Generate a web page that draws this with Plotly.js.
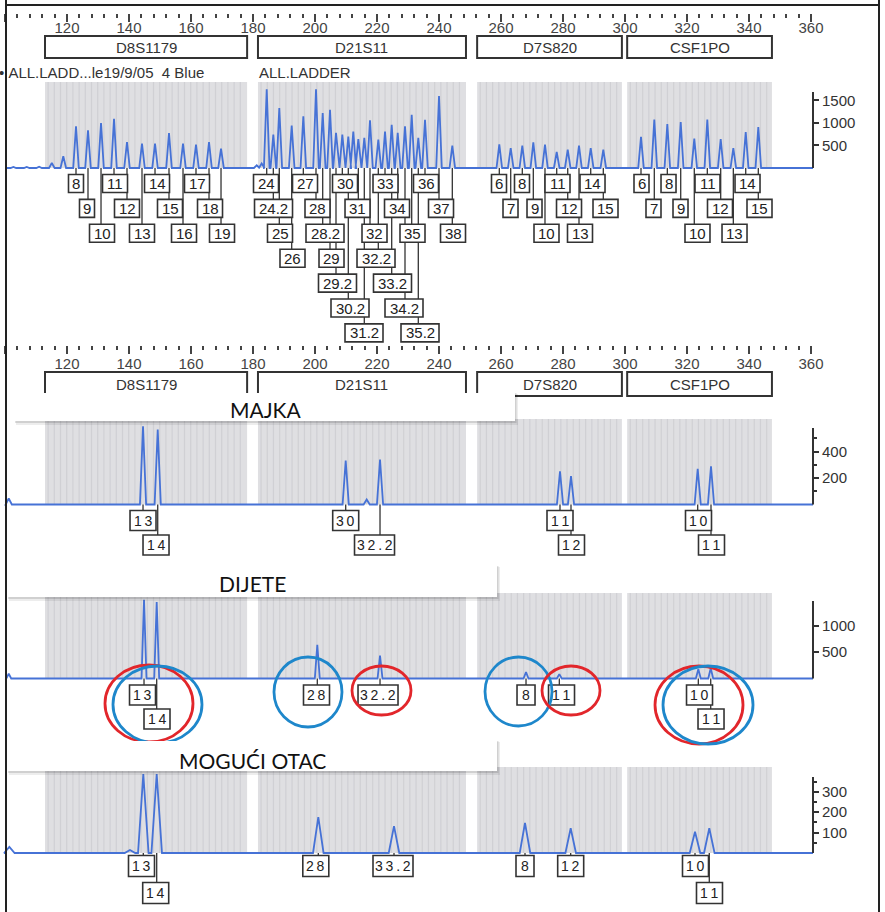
<!DOCTYPE html>
<html><head><meta charset="utf-8">
<script src="https://cdn.plot.ly/plotly-3.0.1.min.js"></script>
<style>html,body{margin:0;padding:0;background:#fff}#chart{width:885px;height:912px}</style>
</head><body><div id="chart"></div>
<script>
// ================= DATA =================
const lociNames = ['D8S1179', 'D21S11', 'D7S820', 'CSF1PO'];
const lociStart = [112.9, 181.6, 252.3, 300.7];
const lociEnd   = [178.1, 248.7, 299.0, 347.4];

const rulerTicks = [100, 120, 140, 160, 180, 200, 220, 240, 260, 280, 300, 320, 340, 360];

// Allelic ladder (ALL.LADDER)
const ladderD8Alleles = ['8','9','10','11','12','13','14','15','16','17','18','19'];
const ladderD8Sizes   = [122.90,126.77,130.97,135.16,139.35,144.19,148.39,152.90,157.42,161.61,165.81,169.68];
const ladderD8Heights = [925,836,1000,1090,577,540,540,777,540,518,577,430];

const ladderD21Alleles = ['24','24.2','25','26','27','28','28.2','29','29.2','30','30.2','31','31.2','32','32.2','33','33.2','34','34.2','35','35.2','36','37','38'];
const ladderD21Sizes   = [184.42,186.55,188.48,192.48,196.23,200.32,202.48,204.84,206.77,208.81,210.74,213.97,215.90,217.74,220.42,222.58,224.74,226.68,229.03,231.19,233.32,235.48,240.00,244.29];
const ladderD21Heights = [1750,740,1330,940,1150,1750,1220,1290,780,740,700,640,670,1060,630,810,960,780,925,1180,670,1070,1600,495];

const ladderD7Alleles = ['6','7','8','9','10','11','12','13','14','15'];
const ladderD7Sizes   = [259.45,263.13,266.87,270.42,274.19,277.97,281.52,285.16,288.94,293.00];
const ladderD7Heights = [525,444,496,570,518,355,407,496,444,407];

const ladderCSFAlleles = ['6','7','8','9','10','11','12','13','14','15'];
const ladderCSFSizes   = [305.16,309.45,313.65,317.97,322.35,326.55,330.87,334.94,338.94,343.00];
const ladderCSFHeights = [690,1073,977,1021,651,1073,644,444,800,910];

const ladderMinorSizes   = [102.7,107.0,111.0,115.1,118.8,181.2,182.8,212.35];
const ladderMinorHeights = [25,25,30,110,260,60,100,810];

// MAJKA (mother)
const majkaAlleles = ['13','14','30','32.2','11','12','10','11'];
const majkaSizes   = [144.52,149.26,209.90,220.97,279.03,282.58,323.45,327.74];
const majkaHeights = [590,566,332,340,250,214,270,289];
const majkaMinorSizes   = [101.2,216.67];
const majkaMinorHeights = [45,38];

// DIJETE (child)
const dijeteAlleles = ['13','14','28','32.2','8','11','10','11'];
const dijeteSizes   = [144.84,148.93,200.74,220.97,268.07,278.81,323.65,327.65];
const dijeteHeights = [1490,1443,637,435,123,82,176,195];
const dijeteMinorSizes   = [101.2];
const dijeteMinorHeights = [90];

// MOGUĆI OTAC (alleged father)
const otacAlleles = ['13','14','28','33.2','8','12','10','11'];
const otacSizes   = [144.61,148.93,201.06,225.48,267.74,282.48,322.58,327.19];
const otacHeights = [387,387,176,132,147,121,104,121];
const otacMinorSizes   = [101.4,140.3];
const otacMinorHeights = [30,15];

// ================= LAYOUT HELPERS (positions / styles) =================
const W = 885, H = 912, PXBP = 3.1, BP0 = 120 - 67 / 3.1;
const xp = px => px / W;
const yp = py => 1 - py / H;
const toPx = b => (b - BP0) * PXBP;
const X_RANGE = [BP0 - 0.005, BP0 + W / PXBP];
const FONT = 'Liberation Sans, Arial, sans-serif';
const DARK = '#333333';
const TRACE = '#4672d6';

const ladderD8Rows = [0,1,2,0,1,2,0,1,2,0,1,2];
const ladderD8Shift = [0,-1,1,1,0,0,2,1,1,1,1,1];
const ladderD21Rows = [0,1,2,3,0,1,2,3,4,0,5,1,6,2,3,0,4,1,5,2,6,0,1,2];
const ladderD21Shift = [-0.7,0.2,0.7,0.8,1.7,1.5,2.3,1.5,1.5,2.7,1.7,-0.8,-0.3,4.5,-2.3,0.5,0.8,-0.7,-1,0.8,1.7,1,2,0.7];
const ladderD7Rows = [0,1,0,1,2,0,1,2,0,1];
const ladderD7Shift = [-0.3,-0.2,-0.3,1.2,1.5,0.8,1.3,1,1.8,2.2];
const ladderCSFRows = [0,1,0,1,2,0,1,2,0,1];
const ladderCSFShift = [0.5,-0.8,1.2,-0.2,3.2,0.2,-0.7,1.2,1.8,1.2];

const majkaRows = [0,1,0,1,0,1,0,1];
const majkaShift = [0,-1.7,0,-5.5,0,0.5,0.8,0.5];
const dijeteRows = [0,1,0,0,0,0,0,1];
const dijeteShift = [-1.5,0.3,-0.8,-2,0,2.2,1.2,0.3];
const otacRows = [0,1,0,0,0,0,0,1];
const otacShift = [-1.8,-1,-2.5,-1,0,0,0.5,0.2];

// panel geometry in pixels
const panels = [
  {base:168,   top:88,  bar:92,  u:22.2, grayTop:82,  hw:0.9, ticks:[500,1000,1500], minor:[]},
  {base:504.5, top:424, bar:428, u:7.55, grayTop:419, hw:1.0, ticks:[200,400], minor:[100,300,500]},
  {base:678.5, top:598, bar:601, u:18.9, grayTop:593, hw:0.8, ticks:[500,1000], minor:[]},
  {base:853,   top:772, bar:777, u:4.9,  grayTop:767, hw:1.7, ticks:[100,200,300], minor:[50,150,250,350]}
];

// ================= TRACES =================
function buildTrace(sizes, heights, hw, yaxis) {
  const pk = sizes.map((s, i) => [s, heights[i]]).sort((a, b) => a[0] - b[0]);
  const xs = [BP0 + 7 / PXBP], ys = [0];
  pk.forEach(([s, h]) => { xs.push(s - hw, s, s + hw); ys.push(0, h, 0); });
  xs.push(BP0 + 813 / PXBP); ys.push(0);
  return {type:'scatter', mode:'lines', x:xs, y:ys, xaxis:'x', yaxis:yaxis,
          line:{color:TRACE, width:1.8}, hoverinfo:'skip', showlegend:false};
}
const ladderSizes = [].concat(ladderD8Sizes, ladderD21Sizes, ladderD7Sizes, ladderCSFSizes, ladderMinorSizes);
const ladderHeights = [].concat(ladderD8Heights, ladderD21Heights, ladderD7Heights, ladderCSFHeights, ladderMinorHeights);

const dummy = (xa, ya) => ({type:'scatter', mode:'markers', x:[200], y:[0], xaxis:xa, yaxis:ya,
  marker:{opacity:0, size:1}, hoverinfo:'skip', showlegend:false});
const traces = [
  buildTrace(ladderSizes, ladderHeights, panels[0].hw, 'y'),
  buildTrace(majkaSizes.concat(majkaMinorSizes), majkaHeights.concat(majkaMinorHeights), panels[1].hw, 'y2'),
  buildTrace(dijeteSizes.concat(dijeteMinorSizes), dijeteHeights.concat(dijeteMinorHeights), panels[2].hw, 'y3'),
  buildTrace(otacSizes.concat(otacMinorSizes), otacHeights.concat(otacMinorHeights), panels[3].hw, 'y4'),
  dummy('x2', 'y'), dummy('x3', 'y'), dummy('x4', 'y2'), dummy('x5', 'y2')
];

// ================= SHAPES & ANNOTATIONS =================
const shapes = [], annotations = [];

// shaded bin regions (light grey with faint vertical streaks, like the scanned print)
panels.forEach(p => lociStart.forEach((s, i) => {
  shapes.push({type:'rect', layer:'below', xref:'x', yref:'paper', x0:s, x1:lociEnd[i],
    y0:yp(p.base), y1:yp(p.grayTop), fillcolor:'#dfdfe2', line:{width:0}});
  for (let v = s + 1; v < lociEnd[i] - 0.5; v += 2) {
    shapes.push({type:'line', layer:'below', xref:'x', yref:'paper', x0:v, x1:v,
      y0:yp(p.base), y1:yp(p.grayTop), line:{color:'rgba(150,150,162,0.2)', width:1.2}});
  }
}));

// locus boxes
[[36, 58, 47], [372, 396, 384]].forEach(([t, b, ty]) => lociStart.forEach((s, i) => {
  shapes.push({type:'rect', xref:'x', yref:'paper', x0:s, x1:lociEnd[i], y0:yp(b), y1:yp(t),
               line:{color:DARK, width:2}, fillcolor:'rgba(0,0,0,0)'});
  annotations.push({xref:'x', yref:'paper', x:(s + lociEnd[i]) / 2, y:yp(ty), text:lociNames[i],
                    showarrow:false, xanchor:'center', yanchor:'middle', font:{family:FONT, size:15, color:DARK}});
}));

// allele labels with leader lines
const lineShapes = [], boxShapes = [];
function addLabels(alleles, sizes, rows, shifts, basePy, row0, rowStep, boxH, wTable, fsize, spaced) {
  alleles.forEach((a, i) => {
    const cy = row0 + rows[i] * rowStep;
    lineShapes.push({type:'line', xref:'x', yref:'paper', x0:sizes[i], x1:sizes[i],
                     y0:yp(basePy), y1:yp(cy), line:{color:DARK, width:1.3}});
    const w = wTable[Math.min(a.length, 4)];
    const cx = sizes[i] + shifts[i] / PXBP;
    boxShapes.push({type:'rect', xref:'x', yref:'paper', x0:cx - w / 2 / PXBP, x1:cx + w / 2 / PXBP,
                    y0:yp(cy + boxH / 2), y1:yp(cy - boxH / 2), line:{color:DARK, width:1.6}, fillcolor:'#ffffff'});
    annotations.push({xref:'x', yref:'paper', x:cx, y:yp(cy), text: spaced ? a.split('').join('\u2009') : a,
                      showarrow:false, xanchor:'center', yanchor:'middle', font:{family:FONT, size:fsize, color:'#222'}});
  });
}
const ladW = [0, 15, 25, 34, 38], smpW = [0, 18, 26, 36, 40];
addLabels(ladderD8Alleles, ladderD8Sizes, ladderD8Rows, ladderD8Shift, 168, 183.5, 24.9, 18, ladW, 15, false);
addLabels(ladderD21Alleles, ladderD21Sizes, ladderD21Rows, ladderD21Shift, 168, 183.5, 24.9, 18, ladW, 15, false);
addLabels(ladderD7Alleles, ladderD7Sizes, ladderD7Rows, ladderD7Shift, 168, 183.5, 24.9, 18, ladW, 15, false);
addLabels(ladderCSFAlleles, ladderCSFSizes, ladderCSFRows, ladderCSFShift, 168, 183.5, 24.9, 18, ladW, 15, false);
addLabels(majkaAlleles, majkaSizes, majkaRows, majkaShift, 504.5, 520.5, 24.5, 20, smpW, 14, true);
addLabels(dijeteAlleles, dijeteSizes, dijeteRows, dijeteShift, 678.5, 695, 24, 20, smpW, 14, true);
addLabels(otacAlleles, otacSizes, otacRows, otacShift, 853, 866, 27, 21, smpW, 14, true);
shapes.push(...lineShapes, ...boxShapes);

// hand-drawn circles on the child's profile (red = maternal, blue = paternal)
const circleAlleleIdx = [[0,1],[0,1],[2],[3],[4],[5],[6,7],[6,7]];
const circleColors = ['#e2262b','#1e87cb','#1e87cb','#e2262b','#1e87cb','#e2262b','#e2262b','#1e87cb'];
const circleDx = [-1.35, 7.15, -9.3, 1.5, -7.5, 11.7, -5.5, 3.5];
const circleCy = [703.5, 704.5, 692, 690.5, 691.5, 690.5, 705, 705];
const circleRx = [44, 44.5, 34, 29.5, 33.5, 29, 44, 45];
const circleRy = [38.5, 38.5, 35, 24.5, 34.5, 24.5, 39, 39];
circleAlleleIdx.forEach((idx, k) => {
  const mean = idx.reduce((s, j) => s + toPx(dijeteSizes[j]), 0) / idx.length;
  const cx = mean + circleDx[k];
  shapes.push({type:'circle', xref:'paper', yref:'paper',
               x0:xp(cx - circleRx[k]), x1:xp(cx + circleRx[k]),
               y0:yp(circleCy[k] + circleRy[k]), y1:yp(circleCy[k] - circleRy[k]),
               line:{color:circleColors[k], width:2.8}, fillcolor:'rgba(0,0,0,0)'});
});

// name banners (white cards with soft shadow)
const banners = [
  {x0:15, x1:515, y0:393, y1:421, text:'MAJKA', ty:409.5, tx:266},
  {x0:8,  x1:497, y0:566, y1:597, text:'DIJETE', ty:583, tx:252},
  {x0:8,  x1:497, y0:741, y1:771, text:'MOGUĆI OTAC', ty:760.5, tx:252}
];
banners.forEach(b => {
  shapes.push({type:'rect', xref:'paper', yref:'paper', x0:xp(b.x0 + 1), x1:xp(b.x1 + 3), y0:yp(b.y1 + 4), y1:yp(b.y0 + 1),
               fillcolor:'rgba(0,0,0,0.07)', line:{width:0}});
  shapes.push({type:'rect', xref:'paper', yref:'paper', x0:xp(b.x0), x1:xp(b.x1 + 1.5), y0:yp(b.y1 + 2), y1:yp(b.y0),
               fillcolor:'rgba(0,0,0,0.12)', line:{width:0}});
  shapes.push({type:'rect', xref:'paper', yref:'paper', x0:xp(b.x0), x1:xp(b.x1), y0:yp(b.y1), y1:yp(b.y0),
               fillcolor:'#ffffff', line:{width:0}});
  annotations.push({xref:'paper', yref:'paper', x:xp(b.tx), y:yp(b.ty), text:b.text, showarrow:false,
                    xanchor:'center', yanchor:'middle', font:{family:'Lato, Open Sans, sans-serif', size:21, color:'#111'}});
});

// y-axis bars
panels.forEach(p => shapes.push({type:'line', xref:'paper', yref:'paper', x0:xp(813), x1:xp(813),
  y0:yp(p.base), y1:yp(p.bar), line:{color:DARK, width:2}}));

// page frame
shapes.push({type:'line', xref:'paper', yref:'paper', x0:xp(6), x1:xp(6), y0:0, y1:1, line:{color:'#222', width:2}});
shapes.push({type:'line', xref:'paper', yref:'paper', x0:xp(879), x1:xp(879), y0:0, y1:1, line:{color:'#222', width:2}});
shapes.push({type:'line', xref:'paper', yref:'paper', x0:xp(6), x1:xp(879), y0:yp(5), y1:yp(5), line:{color:'#222', width:2}});

// run header text
annotations.push({xref:'paper', yref:'paper', x:xp(-3), y:yp(72), xanchor:'left', yanchor:'middle', showarrow:false,
  text:'•\u00a0ALL.LADD...le19/9/05\u00a0\u00a04\u00a0Blue', font:{family:FONT, size:15, color:DARK}});
annotations.push({xref:'paper', yref:'paper', x:xp(257), y:yp(72), xanchor:'left', yanchor:'middle', showarrow:false,
  text:'ALL.LADDER', font:{family:FONT, size:15, color:DARK}});

// ================= AXES =================
const minorRuler = [];
for (let v = rulerTicks[0]; v <= rulerTicks[rulerTicks.length - 1]; v += 4) minorRuler.push(v);
function rulerTicksAxis(py) {
  return {overlaying:'x', anchor:'free', position:yp(py), side:'bottom', range:X_RANGE,
          tickmode:'array', tickvals:rulerTicks, showticklabels:false,
          ticks:'outside', ticklen:8, tickwidth:2, tickcolor:'#444',
          minor:{tickmode:'array', tickvals:minorRuler, ticks:'outside', ticklen:4, tickwidth:2, tickcolor:'#444'},
          showline:false, showgrid:false, zeroline:false, fixedrange:true};
}
function rulerLabelAxis(py) {
  return {overlaying:'x', anchor:'free', position:yp(py), side:'bottom', range:X_RANGE,
          tickmode:'array', tickvals:rulerTicks, ticktext:rulerTicks.map(String), ticks:'',
          showline:false, showgrid:false, zeroline:false, fixedrange:true,
          tickfont:{family:FONT, size:15, color:'#444'}};
}
function yAxis(p) {
  return {domain:[yp(p.base + 2), yp(p.top)], range:[-2 * p.u, (p.base - p.top) * p.u],
          anchor:'free', position:xp(813), side:'right', showline:false, showgrid:false, zeroline:false,
          tickmode:'array', tickvals:p.ticks, ticktext:p.ticks.map(String),
          ticks:'outside', ticklen:5, tickwidth:2, tickcolor:DARK,
          minor: p.minor.length ? {tickmode:'array', tickvals:p.minor, ticks:'outside', ticklen:3, tickwidth:2, tickcolor:DARK} : undefined,
          tickfont:{family:FONT, size:15, color:DARK}, fixedrange:true};
}
const layout = {
  width:W, height:H, margin:{l:0, r:0, t:0, b:0},
  paper_bgcolor:'#ffffff', plot_bgcolor:'rgba(0,0,0,0)', showlegend:false,
  xaxis:{domain:[0, 1], range:X_RANGE, visible:false, anchor:'y', fixedrange:true},
  xaxis2:rulerTicksAxis(13),
  xaxis3:rulerLabelAxis(17),
  xaxis4:rulerTicksAxis(345),
  xaxis5:rulerLabelAxis(353),
  yaxis:yAxis(panels[0]), yaxis2:yAxis(panels[1]), yaxis3:yAxis(panels[2]), yaxis4:yAxis(panels[3]),
  shapes:shapes, annotations:annotations
};
Plotly.newPlot('chart', traces, layout, {displayModeBar:false, staticPlot:true});
</script></body></html>
